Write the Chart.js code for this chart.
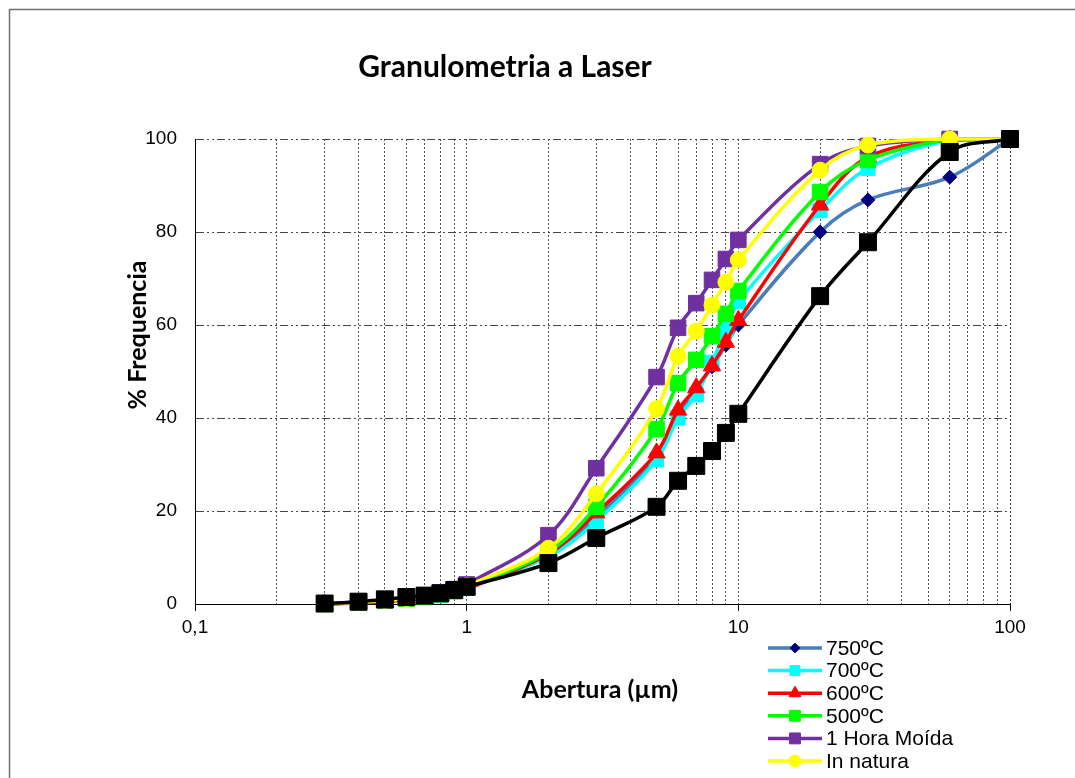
<!DOCTYPE html>
<html>
<head>
<meta charset="utf-8">
<script src="https://cdn.jsdelivr.net/npm/chart.js@4.4.1/dist/chart.umd.min.js"></script>
<style>
  html, body { margin: 0; padding: 0; background: #fff; }
  canvas { display: block; }
</style>
</head>
<body>
<canvas id="granulo" width="1075" height="778"></canvas>
<script>
// abertura (µm)
const sizes = [0.3, 0.4, 0.5, 0.6, 0.7, 0.8, 0.9, 1, 2, 3, 5, 6, 7, 8, 9, 10, 20, 30, 60, 100];

// % frequencia acumulada
const s750   = [0, 0.3, 0.6, 1.0, 1.4, 1.9, 2.6, 3.4, 10.5, 18.7, 31.8, 40.6, 46.2, 51.0, 55.7, 60.0, 80.0, 86.9, 91.8, 100];
const s700   = [0, 0.3, 0.6, 1.0, 1.4, 1.9, 2.6, 3.4, 10.2, 17.8, 31.0, 40.0, 45.0, 52.0, 59.0, 65.0, 84.6, 93.7, 99.8, 100];
const s600   = [0, 0.2, 0.5, 0.9, 1.3, 1.8, 2.4, 3.2, 10.8, 19.6, 32.5, 41.7, 46.5, 51.2, 56.3, 61.0, 85.8, 96.1, 99.8, 99.7];
const s500   = [0, 0.3, 0.7, 1.1, 1.5, 2.1, 2.8, 3.6, 11.2, 20.9, 37.6, 47.5, 52.5, 57.6, 62.4, 67.3, 88.6, 95.5, 99.9, 100];
const sMoida = [0.1, 0.4, 0.8, 1.3, 1.8, 2.5, 3.2, 4.2, 14.8, 29.2, 48.8, 59.4, 64.7, 69.7, 74.2, 78.3, 94.6, 98.5, 100, 100];
const sNatura = [0.1, 0.4, 0.8, 1.2, 1.7, 2.3, 3.0, 3.9, 12.0, 23.7, 42.0, 53.3, 58.7, 64.3, 69.2, 74.0, 93.3, 98.7, 100, 100];
const sBlack = [0.1, 0.5, 1.0, 1.5, 1.8, 2.3, 3.0, 3.7, 8.8, 14.2, 20.9, 26.5, 29.7, 32.9, 36.8, 40.9, 66.2, 77.8, 97.2, 100];

const legendNames = ['750ºC', '700ºC', '600ºC', '500ºC', '1 Hora Moída', 'In natura'];
const xTickLabels = { 0.1: '0,1', 1: '1', 10: '10', 100: '100' };
const yTicks = [0, 20, 40, 60, 80, 100];

const pts = (arr) => arr.map((v, i) => ({ x: sizes[i], y: v }));

function serie(label, data, line, mark, style, radius, order) {
    return {
        label: label,
        data: pts(data),
        borderColor: line,
        backgroundColor: mark,
        pointBackgroundColor: mark,
        pointBorderColor: mark,
        pointStyle: style,
        pointRadius: radius,
        pointBorderWidth: 1,
        borderWidth: 3.5,
        tension: 0.35,
        clip: false,
        order: order,
        inLegend: label !== '',
    };
}

const datasets = [
    serie(legendNames[0], s750, '#4a7ebb', '#000080', 'rectRot', 7, 6),
    serie(legendNames[1], s700, '#00ffff', '#00ffff', 'rect', 10, 5),
    serie(legendNames[2], s600, '#ff0000', '#ff0000', 'triangle', 10, 4),
    serie(legendNames[3], s500, '#00ff00', '#00ff00', 'rect', 11, 3),
    serie(legendNames[4], sMoida, '#7030a0', '#7030a0', 'rect', 11, 2),
    serie(legendNames[5], sNatura, '#ffff00', '#ffff00', 'circle', 8, 1),
    serie('', sBlack, '#000000', '#000000', 'rect', 12, 0),
];

// moldura, titulos dos eixos e legenda
const extras = {
    id: 'extras',
    beforeDraw(chart) {
        const ctx = chart.ctx;
        ctx.save();
        ctx.strokeStyle = '#707070';
        ctx.lineWidth = 1.5;
        ctx.beginPath();
        ctx.moveTo(9.5, 778);
        ctx.lineTo(9.5, 9.5);
        ctx.lineTo(1075, 9.5);
        ctx.stroke();
        ctx.restore();
    },
    afterDraw(chart) {
        const ctx = chart.ctx;
        ctx.save();
        ctx.fillStyle = '#000';
        ctx.font = 'bold 25px Lato';
        ctx.textAlign = 'center';
        ctx.textBaseline = 'middle';
        ctx.fillText('Abertura (µm)', 600, 690);
        ctx.translate(138, 335);
        ctx.rotate(-Math.PI / 2);
        ctx.fillText('% Frequencia', 0, 0);
        ctx.restore();

        ctx.save();
        let y = 648;
        chart.data.datasets.forEach((ds) => {
            if (!ds.inLegend) return;
            ctx.strokeStyle = ds.borderColor;
            ctx.lineWidth = 3.5;
            ctx.beginPath();
            ctx.moveTo(768, y);
            ctx.lineTo(822, y);
            ctx.stroke();
            ctx.fillStyle = ds.pointBackgroundColor;
            ctx.strokeStyle = ds.pointBorderColor;
            ctx.lineWidth = 1;
            Chart.helpers.drawPoint(ctx, {
                pointStyle: ds.pointStyle,
                radius: ds.pointStyle === 'circle' ? 6 : ds.pointRadius * 0.7,
                rotation: 0,
                borderWidth: 1,
            }, 795, y);
            ctx.fillStyle = '#000';
            ctx.font = '21px "Liberation Sans"';
            ctx.textAlign = 'left';
            ctx.textBaseline = 'middle';
            ctx.fillText(ds.label, 826, y + 1);
            y += 22.6;
        });
        ctx.restore();
    }
};

new Chart(document.getElementById('granulo'), {
    type: 'line',
    data: { datasets: datasets },
    options: {
        responsive: false,
        animation: false,
        layout: {
            padding: { left: 0, right: 65, top: 0, bottom: 0 }
        },
        scales: {
            x: {
                type: 'logarithmic',
                min: 0.1,
                max: 100,
                afterBuildTicks: (scale) => {
                    const t = [];
                    [0.1, 1, 10].forEach((d) => {
                        for (let k = 1; k < 10; k++) t.push({ value: +(d * k).toPrecision(2) });
                    });
                    t.push({ value: 100 });
                    scale.ticks = t;
                },
                afterFit: (scale) => { scale.height = 174; },
                ticks: {
                    autoSkip: false,
                    maxRotation: 0,
                    padding: 5,
                    color: '#000',
                    font: { family: 'Liberation Sans', size: 19 },
                    callback: (v) => xTickLabels[v] || '',
                },
                grid: {
                    color: (c) => (c.tick && c.tick.value === 100 ? '#333' : '#555'),
                    lineWidth: 1,
                    tickLength: 7,
                    tickColor: (c) => (c.tick && xTickLabels[c.tick.value] ? '#000' : 'rgba(0,0,0,0)'),
                },
                border: { display: true, color: '#000', width: 1, dash: [2, 2] },
            },
            y: {
                min: 0,
                max: 100,
                afterBuildTicks: (scale) => { scale.ticks = yTicks.map((v) => ({ value: v })); },
                afterFit: (scale) => { scale.width = 195; },
                ticks: {
                    padding: 18,
                    color: '#000',
                    font: { family: 'Liberation Sans', size: 19 },
                },
                grid: {
                    color: '#444',
                    lineWidth: 1,
                    drawTicks: false,
                },
                border: { display: true, color: '#000', width: 1, dash: [8, 3, 2, 3, 2, 3] },
            }
        },
        plugins: {
            title: {
                display: true,
                text: 'Granulometria a Laser',
                color: '#000',
                font: { family: 'Lato', size: 30, weight: 'bold' },
                padding: { top: 49, bottom: 54 },
            },
            legend: { display: false },
            tooltip: { enabled: false },
        },
    },
    plugins: [extras]
});
</script>
</body>
</html>
